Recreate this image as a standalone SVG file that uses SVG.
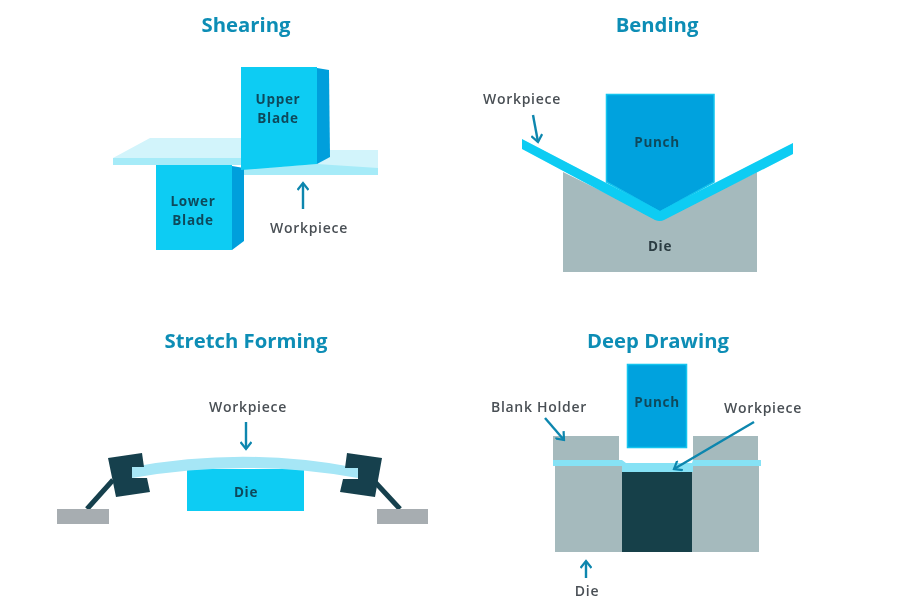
<svg xmlns="http://www.w3.org/2000/svg" width="900" height="600" viewBox="0 0 900 600">
<style>
text{font-family:"Open Sans","Liberation Sans",sans-serif;text-anchor:middle}
.t{font-size:20.300px;font-weight:700;fill:#0a8db5}
.l{font-size:14px;font-weight:600;letter-spacing:.7px;fill:#4a5055}
.i{font-size:13.500px;font-weight:700;letter-spacing:.7px;fill:#0e4a5c}
.a{fill:none;stroke:#0a86ae;stroke-width:2.400}
.c{fill:#08ccf3}.s{fill:#049fdc}.top{fill:#d2f4fb}.fr{fill:#a6ebf8}
.g{fill:#a5babd}.d{fill:#17414d}.b{fill:#a7adb1}
.p{fill:#02a2de;stroke:#12c4ee;stroke-width:1.500}
</style>
<defs>
<marker id="h" viewBox="0 0 12 12" refX="10" refY="6" markerWidth="12" markerHeight="12" markerUnits="userSpaceOnUse" orient="auto"><path d="M3 .5 10 6 3 11.500" fill="none" stroke="#0a86ae" stroke-width="2.200"/></marker>
<filter id="soft" x="0" y="0" width="100%" height="100%"><feGaussianBlur stdDeviation="0.500"/></filter>
</defs>
<rect width="900" height="600" fill="#fff"/>
<g filter="url(#soft)">
<text class="t" x="246" y="32">Shearing</text>
<text class="t" x="657" y="32">Bending</text>
<text class="t" x="246" y="348">Stretch Forming</text>
<text class="t" x="658" y="348">Deep Drawing</text>

<g id="shearing-workpiece">
<path class="top" d="M113 158 150 138H243V158Z"/>
<rect class="fr" x="113" y="158" width="130" height="7"/>
<path class="top" d="M300 150H378V168H300Z"/>
<path class="fr" d="M243 169 317 164 378 168V175H243Z"/>
</g>
<g id="lower-blade">
<rect class="c" x="156" y="165" width="76" height="85"/>
<path class="s" d="M232 166 244 168V241L232 250Z"/>
<text class="i"><tspan x="193" y="206">Lower</tspan><tspan x="193" y="224.500">Blade</tspan></text>
</g>
<g id="upper-blade">
<path class="c" d="M241 67H317V164L241 170Z"/>
<path class="s" d="M317 68 329 70 330 157 317 164Z"/>
<text class="i"><tspan x="278" y="104">Upper</tspan><tspan x="278" y="122.500">Blade</tspan></text>
</g>
<g id="shearing-label"><text class="l" x="309" y="233">Workpiece</text></g>

<g id="bending-die">
<path class="g" d="M563 172 660 220 757 172V272H563Z"/>
<text class="i" x="660" y="251" style="fill:#2c3c42">Die</text>
</g>
<g id="bending-punch">
<path class="p" d="M606.500 94.500H714V182L660 212 606.500 182Z"/>
<text class="i" x="657" y="147">Punch</text>
</g>
<g id="bending-workpiece">
<path class="c" d="M522 139 660 211 793 143V154L664 220Q660 222 655 220L522 149Z"/>
<text class="l" x="522" y="104">Workpiece</text>
</g>

<g id="stretch-die">
<rect class="c" x="187" y="469" width="117" height="42"/>
<text class="i" x="246" y="497">Die</text>
</g>
<g id="stretch-workpiece">
<path d="M132 467Q246 446 358 468V478Q246 458 132 478Z" fill="#a6e6f6"/>
<text class="l" x="248" y="412">Workpiece</text>
</g>
<g id="stretch-supports">
<path d="M113 480 87 509M375 482 400 509" stroke="#17414d" stroke-width="5" fill="none"/>
<path class="d" fill-rule="evenodd" d="M108 458 142 453 144 467H132V478H147L150 492 116 497Z"/>
<path class="d" fill-rule="evenodd" d="M347 453 382 458 375 497 340 492 343 479H358V468H345Z"/>
<rect class="b" x="57" y="509" width="52" height="15"/>
<rect class="b" x="377" y="509" width="51" height="15"/>
</g>

<g id="deep-die">
<rect class="g" x="553" y="436" width="66" height="26"/>
<rect class="g" x="693" y="436" width="65" height="26"/>
<rect class="g" x="555" y="465" width="67" height="87"/>
<rect class="g" x="692" y="465" width="67" height="87"/>
<text class="l" x="587" y="596">Die</text>
</g>
<g id="deep-core"><rect x="622" y="472" width="70" height="80" fill="#12404a"/></g>
<g id="deep-workpiece">
<path fill="#86e2f5" d="M553 460H622L626 463H692L693 460H761V466H693V472H622V466H553Z"/>
<text class="l" x="763" y="413">Workpiece</text>
</g>
<g id="deep-punch">
<rect class="p" x="627.500" y="364.500" width="59" height="83"/>
<text class="i" x="657" y="407">Punch</text>
</g>
<g id="blank-holder"><text class="l" x="539" y="412">Blank Holder</text></g>

<g id="connectors">
<path class="a" marker-end="url(#h)" d="M303 209V183"/>
<path class="a" marker-end="url(#h)" d="M533 115 538 142"/>
<path class="a" marker-end="url(#h)" d="M246 422V449"/>
<path class="a" marker-end="url(#h)" d="M545 418 564 440"/>
<path class="a" marker-end="url(#h)" d="M754 422 674 469"/>
<path class="a" marker-end="url(#h)" d="M586 578V561"/>
</g>
</g>
</svg>
